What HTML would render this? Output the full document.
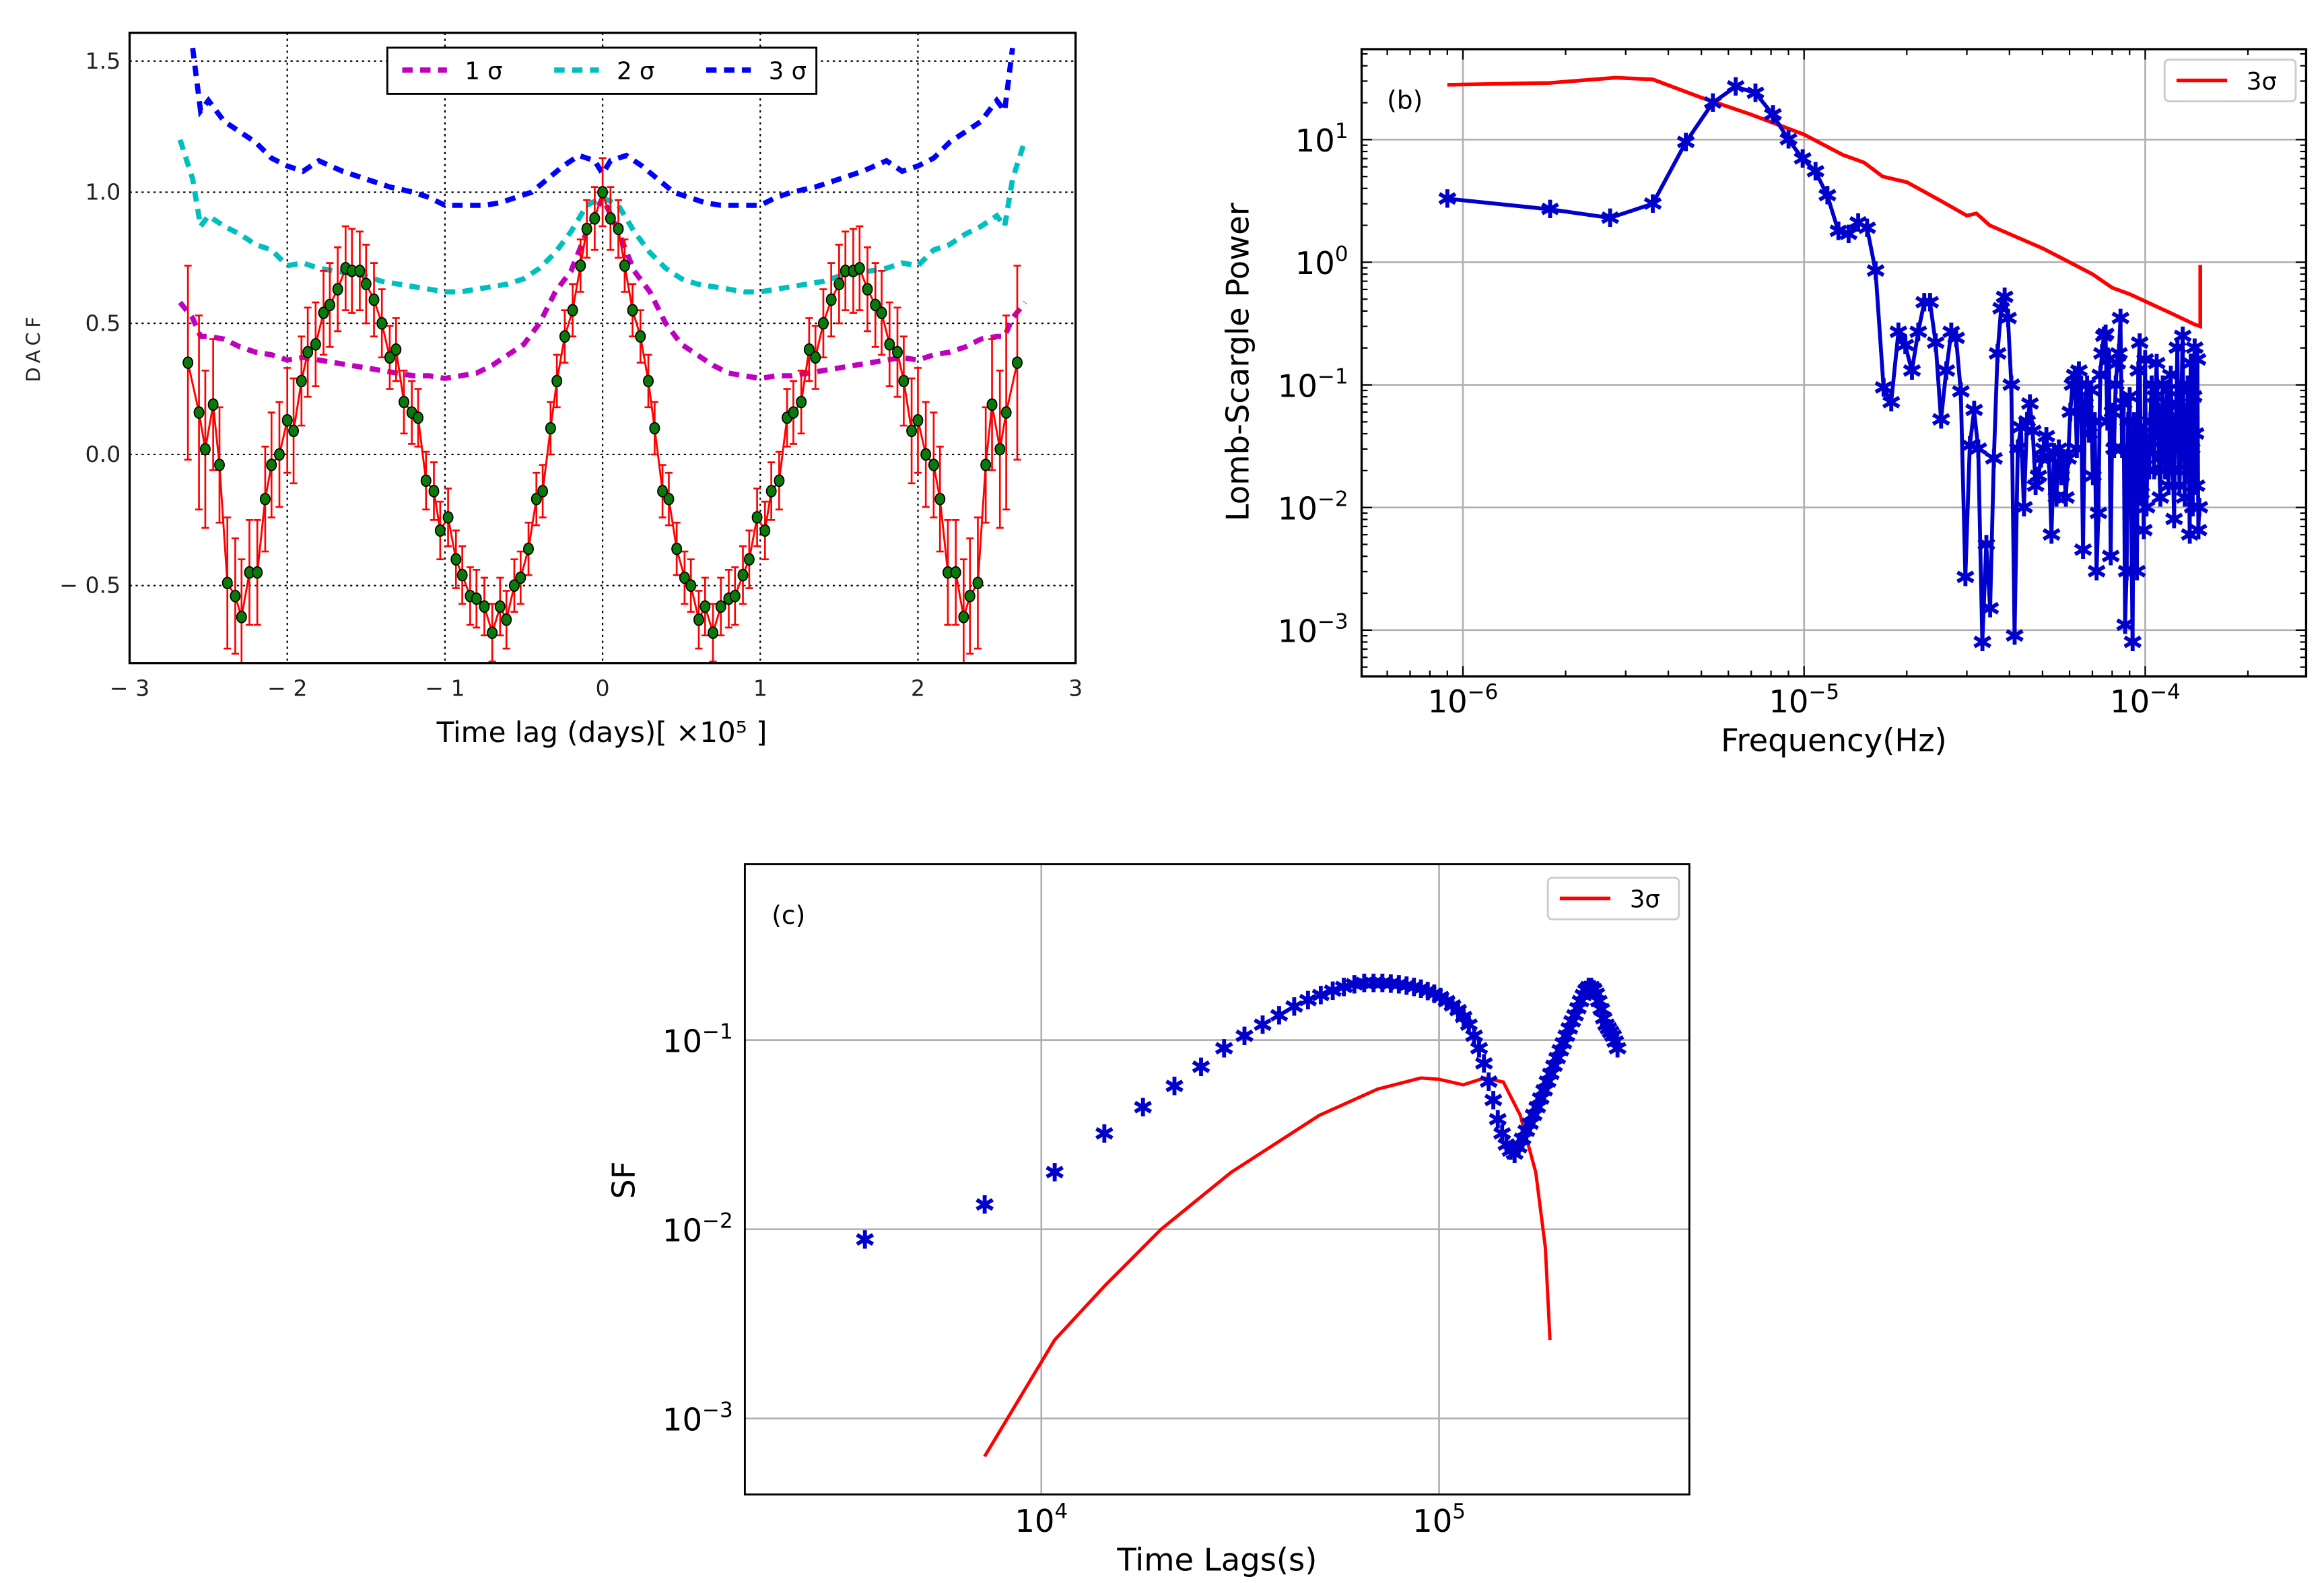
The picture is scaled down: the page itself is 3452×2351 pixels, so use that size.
<!DOCTYPE html>
<html><head><meta charset="utf-8"><style>
html,body{margin:0;padding:0;background:#fff;}
svg{display:block;}
text{font-family:"DejaVu Sans","Liberation Sans",sans-serif;}
</style></head><body>
<svg id="fig" width="3452" height="2351" viewBox="0 0 1560 1062.4" preserveAspectRatio="none" xmlns="http://www.w3.org/2000/svg">
<g id="pa"></g>
<g id="pb"></g>
<g id="pc"></g>
</svg>
<script>
// ---- Panel (a) data ----
const dacfLagsPos=[0,0.05,0.1,0.14,0.19,0.24,0.29,0.33,0.38,0.42,0.47,0.52,0.56,0.61,0.65,0.7,0.75,0.8,0.84,0.89,0.93,0.98,1.03,1.07,1.12,1.17,1.21,1.26,1.31,1.35,1.4,1.45,1.5,1.54,1.59,1.63,1.68,1.73,1.77,1.82,1.87,1.91,1.96,2.0,2.05,2.1,2.14,2.19,2.24,2.29,2.33,2.38,2.43,2.47,2.52,2.56,2.63];
const dacfValsPos=[1.0,0.9,0.86,0.72,0.55,0.45,0.28,0.1,-0.14,-0.17,-0.36,-0.47,-0.5,-0.63,-0.58,-0.68,-0.58,-0.55,-0.54,-0.46,-0.4,-0.24,-0.29,-0.14,-0.1,0.14,0.16,0.2,0.4,0.37,0.5,0.59,0.65,0.7,0.7,0.71,0.63,0.57,0.54,0.42,0.39,0.28,0.09,0.13,0.0,-0.04,-0.17,-0.45,-0.45,-0.62,-0.54,-0.49,-0.04,0.19,0.02,0.16,0.35];
const dacfErrPos=[0.13,0.12,0.11,0.1,0.1,0.1,0.1,0.1,0.1,0.1,0.1,0.1,0.1,0.11,0.11,0.11,0.11,0.11,0.11,0.11,0.11,0.11,0.11,0.11,0.11,0.11,0.12,0.12,0.12,0.12,0.13,0.14,0.15,0.15,0.16,0.16,0.16,0.16,0.16,0.16,0.17,0.17,0.2,0.2,0.2,0.2,0.2,0.2,0.2,0.22,0.22,0.25,0.22,0.25,0.3,0.37,0.37];
const sig1X=[0,0.1,0.2,0.3,0.4,0.5,0.6,0.7,0.8,0.9,1.0,1.1,1.2,1.4,1.6,1.8,1.9,2.0,2.1,2.2,2.3,2.4,2.5,2.55,2.6,2.68];
const sig1Y=[0.98,0.85,0.7,0.62,0.5,0.42,0.38,0.34,0.31,0.3,0.29,0.3,0.3,0.32,0.34,0.36,0.37,0.36,0.38,0.39,0.41,0.44,0.45,0.45,0.52,0.58];
const sig2X=[0,0.1,0.2,0.3,0.4,0.5,0.6,0.7,0.8,0.9,1.0,1.1,1.2,1.4,1.5,1.6,1.8,1.9,2.0,2.1,2.2,2.3,2.4,2.5,2.55,2.6,2.68];
const sig2Y=[0.98,0.95,0.85,0.77,0.71,0.67,0.65,0.64,0.63,0.62,0.62,0.63,0.64,0.66,0.68,0.69,0.71,0.73,0.72,0.78,0.8,0.84,0.87,0.91,0.87,1.05,1.2];
const sig3X=[0,0.05,0.15,0.25,0.35,0.45,0.55,0.65,0.75,0.85,1.0,1.1,1.2,1.35,1.5,1.65,1.8,1.9,2.0,2.1,2.2,2.3,2.4,2.5,2.55,2.6];
const sig3Y=[1.07,1.12,1.14,1.1,1.05,1.0,0.98,0.96,0.95,0.95,0.95,0.98,1.0,1.02,1.05,1.08,1.12,1.08,1.1,1.13,1.19,1.23,1.27,1.35,1.31,1.55];
const aXTicks=[-3,-2,-1,0,1,2,3];
const aYTicks=[-0.5,0.0,0.5,1.0,1.5];
const aYTickLabels=["\u2212 0.5","0.0","0.5","1.0","1.5"];
const aXTickLabels=["\u2212 3","\u2212 2","\u2212 1","0","1","2","3"];
// ---- Panel (b) data ----
const lsBaseFreq=9.0e-7;
const lsPower=[3.3,2.7,2.3,3.0,9.5,20,27,24,16,10,7,5.5,3.5,1.8,1.7,2.1,1.9,0.85,0.095,0.072,0.27,0.21,0.13,0.27,0.47,0.47,0.22,0.052,0.13,0.27,0.24,0.088,0.0027,0.032,0.062,0.03,0.0008,0.005,0.0015,0.025,0.18,0.42,0.52,0.35,0.1,0.0009,
0.03,0.045,0.01,0.05,0.07,0.042,0.015,0.018,0.025,0.03,
0.038,0.025,0.006,0.028,0.012,0.03,0.018,0.025,0.012,0.025,
0.06,0.1,0.12,0.03,0.13,0.1,0.0045,0.07,0.1,0.04,
0.09,0.018,0.05,0.003,0.009,0.12,0.18,0.25,0.26,0.05,
0.16,0.004,0.06,0.03,0.1,0.15,0.18,0.35,0.03,0.07,
0.0011,0.003,0.05,0.08,0.01,0.0008,0.05,0.02,0.003,0.13,
0.22,0.013,0.04,0.0065,0.16,0.01,0.03,0.02,0.05,0.1,
0.04,0.02,0.08,0.15,0.06,0.025,0.012,0.05,0.1,0.03,
0.02,0.06,0.09,0.015,0.04,0.12,0.05,0.02,0.008,0.035,
0.07,0.2,0.05,0.015,0.03,0.09,0.25,0.04,0.012,0.06,
0.02,0.1,0.035,0.006,0.15,0.03,0.01,0.08,0.2,0.04,
0.015,0.16,0.0065,0.01];
const ls3sFreq=[9e-7,1.8e-6,2.8e-6,3.6e-6,5e-6,7e-6,1e-5,1.3e-5,1.5e-5,1.7e-5,2e-5,2.5e-5,3e-5,3.2e-5,3.5e-5,4e-5,5e-5,6e-5,7e-5,8e-5,9e-5,1e-4,1.2e-4,1.4e-4,1.45e-4,1.45e-4];
const ls3sPower=[28,29,32,31,22,16,11,7.5,6.5,5,4.5,3.2,2.4,2.5,2,1.7,1.3,1.0,0.8,0.62,0.55,0.48,0.38,0.31,0.3,0.95];
const bXTicks=[-6,-5,-4];
const bYTicks=[1,0,-1,-2,-3];
// ---- Panel (c) data ----
const sfLagStep=3600;
const sfVals=[0.0088,0.0135,0.020,0.032,0.044,0.057,0.072,0.09,0.105,0.12,0.135,0.15,0.162,0.172,0.182,0.19,0.196,0.2,
0.2,0.2,0.198,0.196,0.193,0.19,0.186,0.181,0.175,0.168,0.16,0.152,0.143,0.132,0.12,
0.105,0.09,0.075,0.06,0.048,0.038,0.032,0.028,0.026,0.025,
0.027,0.03,0.033,0.036,0.04,0.044,0.049,0.054,0.06,0.066,0.073,0.08,0.088,0.096,0.105,0.115,0.125,0.135,0.147,0.16,0.172,0.183,0.19,
0.19,0.185,0.175,0.16,0.145,0.13,0.12,0.115,0.11,0.105,0.098,0.09];
const sf3sLag=[7.2e3,1.08e4,1.44e4,2e4,3e4,5e4,7e4,9e4,1.0e5,1.15e5,1.3e5,1.45e5,1.6e5,1.75e5,1.85e5,1.9e5];
const sf3sVal=[0.00063,0.0026,0.005,0.01,0.02,0.04,0.055,0.063,0.062,0.058,0.063,0.06,0.04,0.02,0.008,0.0026];
const cXTicks=[4,5];
const cYTicks=[-1,-2,-3];

const NS="http://www.w3.org/2000/svg";
function mk(parent,tag,attrs,txt){const e=document.createElementNS(NS,tag);for(const k in attrs)e.setAttribute(k,attrs[k]);if(txt!==undefined)e.textContent=txt;parent.appendChild(e);return e;}
function pathD(pts){return pts.map((p,i)=>(i?'L':'M')+p[0].toFixed(2)+' '+p[1].toFixed(2)).join('');}

// ===== Panel A =====
(function(){
const g=document.getElementById('pa');
const L=87,R=722,T=22,B=445;
const xs=v=>L+(v+3)/6*(R-L);
const ys=v=>305-v*176;
aXTicks.forEach(t=>{const l=mk(g,'line',{x1:xs(t),x2:xs(t),y1:T,y2:B,stroke:'#000','stroke-width':1,'stroke-dasharray':'1.5,2.5'});
});
aYTicks.forEach(t=>{const l=mk(g,'line',{x1:L,x2:R,y1:ys(t),y2:ys(t),stroke:'#000','stroke-width':1,'stroke-dasharray':'1.5,2.5'});
});
const clip=mk(g,'clipPath',{id:'clipA'});mk(clip,'rect',{x:L,y:T,width:R-L,height:B-T});
const cg=mk(g,'g',{'clip-path':'url(#clipA)'});
const mirror=(xa,ya)=>{const pts=[];for(let i=xa.length-1;i>0;i--)pts.push([-xa[i],ya[i]]);for(let i=0;i<xa.length;i++)pts.push([xa[i],ya[i]]);return pts;};
[[sig1X,sig1Y,'#bf00bf','sigma-1-curve'],[sig2X,sig2Y,'#00bfbf','sigma-2-curve'],[sig3X,sig3Y,'#0000ff','sigma-3-curve']].forEach(s=>{
const pts=mirror(s[0],s[1]).map(p=>[xs(p[0]),ys(p[1])]);
const p=mk(cg,'path',{d:pathD(pts),fill:'none',stroke:s[2],'stroke-width':3.5,'stroke-dasharray':'7,5'});
});
const dp=[];
for(let i=dacfLagsPos.length-1;i>0;i--)dp.push([-dacfLagsPos[i],dacfValsPos[i],dacfErrPos[i]]);
for(let i=0;i<dacfLagsPos.length;i++)dp.push([dacfLagsPos[i],dacfValsPos[i],dacfErrPos[i]]);
dp.forEach(d=>{const x=xs(d[0]);
const e=mk(cg,'path',{d:`M${x} ${ys(d[1]-d[2])}L${x} ${ys(d[1]+d[2])}M${x-2.5} ${ys(d[1]-d[2])}L${x+2.5} ${ys(d[1]-d[2])}M${x-2.5} ${ys(d[1]+d[2])}L${x+2.5} ${ys(d[1]+d[2])}`,stroke:'#ff0000','stroke-width':1.2,fill:'none'});
});
const ln=mk(cg,'path',{d:pathD(dp.map(d=>[xs(d[0]),ys(d[1])])),fill:'none',stroke:'#ff0000','stroke-width':1.3});

dp.forEach(d=>{const c=mk(cg,'ellipse',{cx:xs(d[0]),cy:ys(d[1]),rx:3.2,ry:3.8,fill:'#0a7a0a',stroke:'#000','stroke-width':0.8});
});
const fr=mk(g,'rect',{x:L,y:T,width:R-L,height:B-T,fill:'none',stroke:'#000','stroke-width':1.5});

aXTicks.forEach((t,i)=>{const tx=mk(g,'text',{x:xs(t),y:B+22,'font-size':15,'text-anchor':'middle',fill:'#222','font-family':'Liberation Sans Narrow, Liberation Sans, sans-serif'},aXTickLabels[i]);
});
aYTicks.forEach((t,i)=>{const tx=mk(g,'text',{x:L-6,y:ys(t)+5,'font-size':15,'text-anchor':'end',fill:'#222'},aYTickLabels[i]);
});
const xl=mk(g,'text',{x:404,y:498,'font-size':19,'text-anchor':'middle',fill:'#000'},'Time lag (days)[ ×10⁵ ]');

const yl=mk(g,'text',{x:0,y:0,'font-size':13,'text-anchor':'middle',fill:'#222','font-family':'Liberation Serif, serif','letter-spacing':'3',transform:'translate(27,233) rotate(-90)'},'DACF');

const lg=mk(g,'g',{});
mk(lg,'rect',{x:260,y:32,width:288,height:31,fill:'#fff',stroke:'#000','stroke-width':1.3});
[['#bf00bf','1',270],['#00bfbf','2',372],['#0000ff','3',474]].forEach(s=>{
const ent=mk(lg,'g',{});
mk(ent,'line',{x1:s[2],x2:s[2]+30,y1:47,y2:47,stroke:s[0],'stroke-width':3.5,'stroke-dasharray':'7,5'});
mk(ent,'text',{x:s[2]+42,y:53,'font-size':16,fill:'#000'},s[1]+' σ');});
})();

// ===== Panel B =====
(function(){
const g=document.getElementById('pb');
const L=914,R=1548,T=33,B=454;
const xs=f=>1211+(Math.log10(f)+5)*229;
const ys=p=>176-Math.log10(p)*82.3;
bXTicks.forEach(t=>{const l=mk(g,'line',{x1:xs(Math.pow(10,t)),x2:xs(Math.pow(10,t)),y1:T,y2:B,stroke:'#b0b0b0','stroke-width':1.2});
});
bYTicks.forEach(t=>{const l=mk(g,'line',{x1:L,x2:R,y1:ys(Math.pow(10,t)),y2:ys(Math.pow(10,t)),stroke:'#b0b0b0','stroke-width':1.2});
});
for(let d=-7;d<=-4;d++)for(let m=1;m<10;m++){const x=xs(m*Math.pow(10,d));if(x<L||x>R)continue;const len=m===1?7:4;
mk(g,'line',{x1:x,x2:x,y1:B,y2:B-len,stroke:'#000','stroke-width':1});mk(g,'line',{x1:x,x2:x,y1:T,y2:T+len,stroke:'#000','stroke-width':1});}
for(let d=-4;d<=1;d++)for(let m=1;m<10;m++){const y=ys(m*Math.pow(10,d));if(y<T||y>B)continue;const len=m===1?7:4;
mk(g,'line',{x1:L,x2:L+len,y1:y,y2:y,stroke:'#000','stroke-width':1});mk(g,'line',{x1:R,x2:R-len,y1:y,y2:y,stroke:'#000','stroke-width':1});}
const rl=mk(g,'path',{d:pathD(ls3sFreq.map((f,i)=>[xs(f),ys(ls3sPower[i])])),fill:'none',stroke:'#ff0000','stroke-width':2.5});

const pts=lsPower.map((p,i)=>[xs(lsBaseFreq*(i+1)),ys(p)]);
const bl=mk(g,'path',{d:pathD(pts),fill:'none',stroke:'#0000cc','stroke-width':2.6});

pts.forEach(p=>{const c=mk(g,'text',{x:p[0],y:p[1]+6,'font-size':17,'text-anchor':'middle',fill:'#0000cc','font-weight':'bold'},'✱');
});
const fr=mk(g,'rect',{x:L,y:T,width:R-L,height:B-T,fill:'none',stroke:'#000','stroke-width':1.5});

bXTicks.forEach(t=>{const tx=mk(g,'text',{x:xs(Math.pow(10,t)),y:478,'font-size':21,'text-anchor':'middle',fill:'#000'});

mk(tx,'tspan',{},'10');mk(tx,'tspan',{dy:-9,'font-size':14},'−'+(-t));});
bYTicks.forEach(t=>{const tx=mk(g,'text',{x:905,y:ys(Math.pow(10,t))+8,'font-size':21,'text-anchor':'end',fill:'#000'});

mk(tx,'tspan',{},'10');mk(tx,'tspan',{dy:-9,'font-size':14},t<0?'−'+(-t):String(t));});
const xl=mk(g,'text',{x:1231,y:504,'font-size':21,'text-anchor':'middle',fill:'#000'},'Frequency(Hz)');

const yl=mk(g,'text',{x:0,y:0,'font-size':21,'text-anchor':'middle',fill:'#000',transform:'translate(838,243) rotate(-90)'},'Lomb-Scargle Power');

const pl=mk(g,'text',{x:931,y:73,'font-size':17,fill:'#000'},'(b)');

const lg=mk(g,'g',{});
mk(lg,'rect',{x:1453,y:40,width:88,height:28,rx:3,fill:'#fff',stroke:'#ccc','stroke-width':1.3});
mk(lg,'line',{x1:1461,x2:1495,y1:54,y2:54,stroke:'#ff0000','stroke-width':2.5});
mk(lg,'text',{x:1508,y:60,'font-size':16,fill:'#000'},'3σ');
})();

// ===== Panel C =====
(function(){
const g=document.getElementById('pc');
const L=500,R=1134,T=580,B=1003;
const xs=v=>699+(Math.log10(v)-4)*267;
const ys=v=>698-(Math.log10(v)+1)*127;
cXTicks.forEach(t=>{const l=mk(g,'line',{x1:xs(Math.pow(10,t)),x2:xs(Math.pow(10,t)),y1:T,y2:B,stroke:'#b0b0b0','stroke-width':1.2});
});
cYTicks.forEach(t=>{const l=mk(g,'line',{x1:L,x2:R,y1:ys(Math.pow(10,t)),y2:ys(Math.pow(10,t)),stroke:'#b0b0b0','stroke-width':1.2});
});
const rl=mk(g,'path',{d:pathD(sf3sLag.map((v,i)=>[xs(v),ys(sf3sVal[i])])),fill:'none',stroke:'#ff0000','stroke-width':2.2});

sfVals.forEach((v,i)=>{const c=mk(g,'text',{x:xs(sfLagStep*(i+1)),y:ys(v)+6,'font-size':17,'text-anchor':'middle',fill:'#0000cc','font-weight':'bold'},'✱');
});
const fr=mk(g,'rect',{x:L,y:T,width:R-L,height:B-T,fill:'none',stroke:'#000','stroke-width':1.3});

cXTicks.forEach(t=>{const tx=mk(g,'text',{x:xs(Math.pow(10,t)),y:1028,'font-size':21,'text-anchor':'middle',fill:'#000'});

mk(tx,'tspan',{},'10');mk(tx,'tspan',{dy:-9,'font-size':14},String(t));});
cYTicks.forEach(t=>{const tx=mk(g,'text',{x:492,y:ys(Math.pow(10,t))+8,'font-size':21,'text-anchor':'end',fill:'#000'});

mk(tx,'tspan',{},'10');mk(tx,'tspan',{dy:-9,'font-size':14},'−'+(-t));});
const xl=mk(g,'text',{x:817,y:1054,'font-size':21,'text-anchor':'middle',fill:'#000'},'Time Lags(s)');

const yl=mk(g,'text',{x:0,y:0,'font-size':21,'text-anchor':'middle',fill:'#000',transform:'translate(426,792) rotate(-90)'},'SF');

const pl=mk(g,'text',{x:518,y:620,'font-size':17,fill:'#000'},'(c)');

const lg=mk(g,'g',{});
mk(lg,'rect',{x:1039,y:589,width:88,height:28,rx:3,fill:'#fff',stroke:'#ccc','stroke-width':1.3});
mk(lg,'line',{x1:1047,x2:1081,y1:603,y2:603,stroke:'#ff0000','stroke-width':2.5});
mk(lg,'text',{x:1094,y:609,'font-size':16,fill:'#000'},'3σ');
})();
</script>
</body></html>
